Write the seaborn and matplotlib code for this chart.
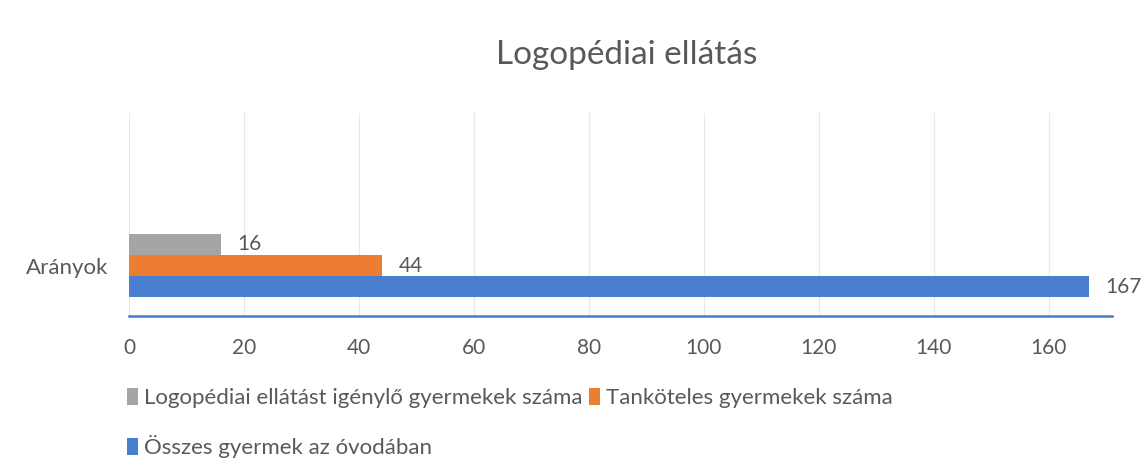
import matplotlib
matplotlib.use("Agg")
import matplotlib.pyplot as plt
import seaborn as sns
import pandas as pd
from matplotlib.patches import Patch

categories = ["Arányok"]
series = ["Logopédiai ellátást igénylő gyermekek száma",
          "Tanköteles gyermekek száma",
          "Összes gyermek az óvodában"]
values = [16, 44, 167]
colors = ["#a5a5a5", "#ed7d31", "#4a7fd0"]
xticks = [0, 20, 40, 60, 80, 100, 120, 140, 160]

sns.set_theme(style="white")
plt.rcParams['font.family'] = ['Lato', 'DejaVu Sans']

df = pd.DataFrame({"cat": categories * len(series), "series": series, "value": values})

fig = plt.figure(figsize=(11.47, 4.72), dpi=100)
ax = fig.add_axes([129/1147, 1-316/472, (1112-129)/1147, 203/472])

sns.barplot(data=df, y="cat", x="value", hue="series", hue_order=series,
            palette=colors, orient="h", width=0.625, saturation=1,
            ax=ax, legend=False, edgecolor="none")

for c in ax.containers:
    ax.bar_label(c, padding=12, fontsize=15, color="#595959")

ax.set_xlim(0, 171)
ax.set_ylim(0.5, 0.5 - 203/101)
ax.set_xticks(xticks)
ax.set_xlabel("")
ax.set_ylabel("")
ax.tick_params(axis="x", labelsize=15, colors="#595959", length=0, pad=16)
ax.tick_params(axis="y", labelsize=16, colors="#595959", length=0, pad=15)
ax.grid(axis="x", color="#e8e8e8", linewidth=0.8)
ax.set_axisbelow(True)
for s in ["top", "right", "left"]:
    ax.spines[s].set_visible(False)
ax.spines["bottom"].set_color("#3f7ec9")
ax.spines["bottom"].set_linewidth(1.8)

fig.text(627/1147, 1-55/472, "Logopédiai ellátás", ha="center", va="center",
         fontsize=24, color="#595959")

handles = [Patch(facecolor=c, edgecolor="none") for c in colors]
order = [0, 2, 1]
leg = fig.legend([handles[i] for i in order], [series[i] for i in order],
                 ncol=2, loc="upper left", bbox_to_anchor=(127/1147, 1-388/472),
                 frameon=False, fontsize=16, handlelength=0.5, handleheight=0.8,
                 handletextpad=0.25, columnspacing=0.3, labelspacing=1.2,
                 borderaxespad=0, borderpad=0)
for t in leg.get_texts():
    t.set_color("#595959")

fig.savefig("out.png", dpi=100)
